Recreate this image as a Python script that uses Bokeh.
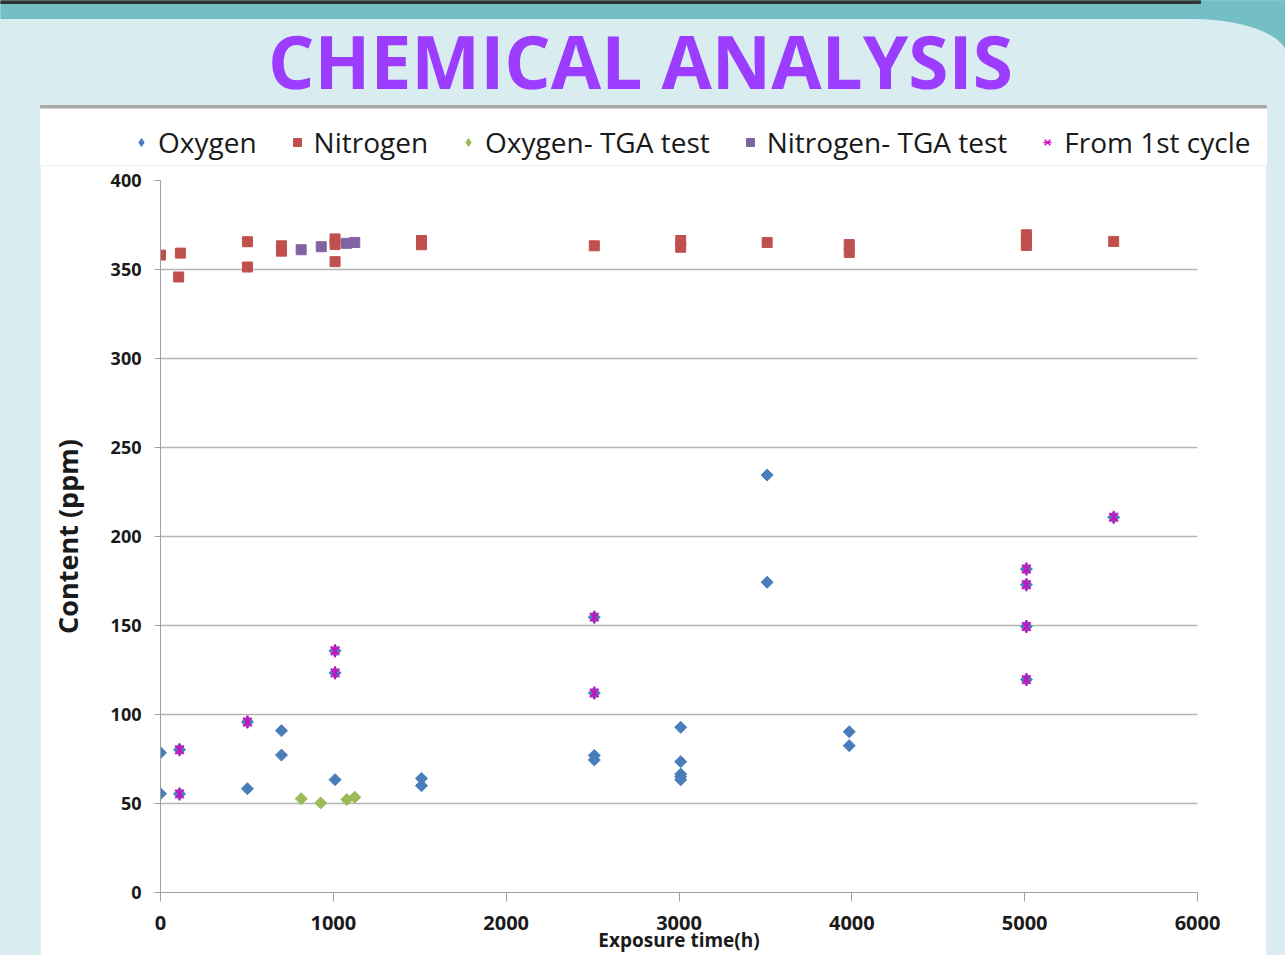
import numpy as np
from bokeh.plotting import figure
from bokeh.models import Range1d, Legend, LegendItem, Label, FixedTicker, Spacer
from bokeh.layouts import column, row
from bokeh.embed import file_html
from bokeh.resources import INLINE

# ---------------- data ----------------
x_ticks = [0, 1000, 2000, 3000, 4000, 5000, 6000]
y_ticks = [0, 50, 100, 150, 200, 250, 300, 350, 400]

oxygen_x = [0, 0, 110, 110, 503, 503, 700, 700, 1010, 1010, 1010, 1510, 1510,
            2510, 2510, 2510, 2510, 3010, 3010, 3010, 3010, 3010, 3510, 3510,
            3985, 3985, 5010, 5010, 5010, 5010, 5515]
oxygen_y = [78.5, 55.5, 80.2, 55.4, 95.8, 58.3, 90.9, 77.2, 135.8, 123.4, 63.4, 64.1, 60.0,
            154.7, 112.1, 77.0, 74.5, 92.8, 73.5, 66.5, 65.0, 63.3, 234.5, 174.3,
            90.3, 82.5, 181.7, 172.9, 149.4, 119.6, 210.8]

nitrogen_x = [0, 115, 105, 503, 503, 700, 700, 1010, 1010, 1010, 1510, 1510, 2510,
              3010, 3010, 3510, 3985, 3985, 5010, 5010, 5010, 5515]
nitrogen_y = [358.1, 359.2, 345.8, 365.6, 351.4, 363.3, 360.3, 367.2, 364.1, 354.4, 366.3, 363.9, 363.3,
              366.3, 362.5, 365.2, 364.0, 359.6, 369.5, 366.5, 363.5, 365.8]

oxy_tga_x = [814, 927, 1078, 1124]
oxy_tga_y = [52.7, 50.3, 52.2, 53.5]

nit_tga_x = [814, 930, 1076, 1124]
nit_tga_y = [361.1, 362.8, 364.7, 365.2]

first_x = [110, 110, 503, 1010, 1010, 2510, 2510, 5010, 5010, 5010, 5010, 5515]
first_y = [80.2, 55.4, 95.8, 135.8, 123.4, 154.7, 112.1, 181.7, 172.9, 149.4, 119.6, 210.8]

series_names = ["Oxygen", "Nitrogen", "Oxygen- TGA test", "Nitrogen- TGA test", "From 1st cycle"]
title_text = "CHEMICAL ANALYSIS"
x_title = "Exposure time(h)"
y_title = "Content (ppm)"

# ---------------- styles ----------------
BG = "#d9edf0"
TEAL = "#74bfc6"
PURPLE = "#9b3cff"
C_OX = "#4a7ebb"
C_N = "#c0504d"
C_OXT = "#9bbb59"
C_NT = "#8064a2"
C_FIRST = "#cc10c0"
TXT = "#1a1a1a"
FONT = "Open Sans"

# ---------------- header: title band + legend strip ----------------
t = figure(width=1285, height=165, x_range=Range1d(0, 1285), y_range=Range1d(165, 0),
           output_backend="svg", toolbar_location=None, min_border=0,
           x_axis_location=None, y_axis_location=None, outline_line_color=None,
           background_fill_color=BG, border_fill_color=BG)
t.grid.visible = False
t.quad(left=0, right=1285, top=0, bottom=18, color=TEAL)
th = np.linspace(0, np.pi / 2, 40)
cx = list(1192 + 95 * np.sin(th)) + [1290, 1192]
cy = list(56 - 38 * np.cos(th)) + [0, 0]
t.patch(cx, cy, color=TEAL)
t.quad(left=0, right=1200, top=0, bottom=3, color="#333333")
t.quad(left=40, right=1266, top=107.5, bottom=168, color="white")
t.quad(left=40, right=1266, top=105, bottom=107.5, color="#a8a8a8")
t.add_layout(Label(x=640, y=60, text=title_text, text_font=FONT, text_font_style="bold",
                   text_font_size="73px", text_color=PURPLE, text_align="center",
                   text_baseline="middle"))

# legend keys (styled like the series markers; they carry no data of their own)
nan = [float("nan")]
k_ox = t.scatter(nan, nan, marker="diamond", fill_color=C_OX, line_color=C_OX)
k_n = t.scatter(nan, nan, marker="square", fill_color=C_N, line_color=C_N)
k_oxt = t.scatter(nan, nan, marker="diamond", fill_color=C_OXT, line_color=C_OXT)
k_nt = t.scatter(nan, nan, marker="square", fill_color=C_NT, line_color=C_NT)
k_f1 = t.scatter(nan, nan, marker="x", line_color=C_FIRST, line_width=1.5)
k_f2 = t.scatter(nan, nan, marker="dash", angle=np.pi / 2, line_color=C_FIRST, line_width=1.5)
legend = Legend(items=[
    LegendItem(label=series_names[0], renderers=[k_ox]),
    LegendItem(label=series_names[1], renderers=[k_n]),
    LegendItem(label=series_names[2], renderers=[k_oxt]),
    LegendItem(label=series_names[3], renderers=[k_nt]),
    LegendItem(label=series_names[4], renderers=[k_f1, k_f2]),
], orientation="horizontal", location=(131, 4), glyph_width=20, glyph_height=20,
    label_standoff=7, spacing=30, padding=0, margin=0, border_line_color=None,
    background_fill_alpha=0, label_text_font=FONT, label_text_font_size="28px",
    label_text_color=TXT)
t.add_layout(legend)

# ---------------- main chart ----------------
p = figure(width=1226, height=790, x_range=Range1d(0, 6000), y_range=Range1d(0, 400),
           output_backend="svg", toolbar_location=None,
           min_border_left=120, min_border_right=69, min_border_top=15, min_border_bottom=62,
           background_fill_color="white", border_fill_color="white", outline_line_color=None)

p.xgrid.visible = False
p.ygrid.grid_line_color = "#b5b5b5"
p.ygrid.grid_line_width = 1.3

p.xaxis.ticker = FixedTicker(ticks=x_ticks)
p.yaxis.ticker = FixedTicker(ticks=y_ticks)
for ax in (p.xaxis[0], p.yaxis[0]):
    ax.axis_line_color = "#a0a0a0"
    ax.major_tick_line_color = "#a0a0a0"
    ax.minor_tick_line_color = None
    ax.major_tick_in = 0
    ax.major_label_text_font = FONT
    ax.major_label_text_font_style = "bold"
    ax.major_label_text_color = TXT
    ax.axis_label_text_font = FONT
    ax.axis_label_text_font_style = "bold"
    ax.axis_label_text_color = TXT
p.xaxis.major_tick_out = 9
p.yaxis.major_tick_out = 6
p.xaxis.major_label_text_font_size = "20px"
p.yaxis.major_label_text_font_size = "18px"
p.xaxis.major_label_standoff = 14
p.yaxis.major_label_standoff = 13

p.yaxis.axis_label = y_title
p.yaxis.axis_label_text_font_size = "27px"
p.yaxis.axis_label_standoff = 22

p.xaxis.axis_label = x_title
p.xaxis.axis_label_text_font_size = "19px"
p.xaxis.axis_label_standoff = -6

p.scatter(oxygen_x, oxygen_y, marker="square", angle=np.pi / 4, size=8.5,
          fill_color=C_OX, line_color=C_OX)
p.scatter(nitrogen_x, nitrogen_y, marker="square", size=10,
          fill_color=C_N, line_color=C_N)
p.scatter(oxy_tga_x, oxy_tga_y, marker="square", angle=np.pi / 4, size=8.5,
          fill_color=C_OXT, line_color=C_OXT)
p.scatter(nit_tga_x, nit_tga_y, marker="square", size=10,
          fill_color=C_NT, line_color=C_NT)
p.scatter(first_x, first_y, marker="x", size=12, line_color=C_FIRST, line_width=2)
p.scatter(first_x, first_y, marker="dash", angle=np.pi / 2, size=13,
          line_color=C_FIRST, line_width=2)

layout = column(t, row(Spacer(width=40, height=790), p, Spacer(width=19, height=790)),
                styles={"background-color": BG})

open("out.html", "w").write(file_html(layout, INLINE))
